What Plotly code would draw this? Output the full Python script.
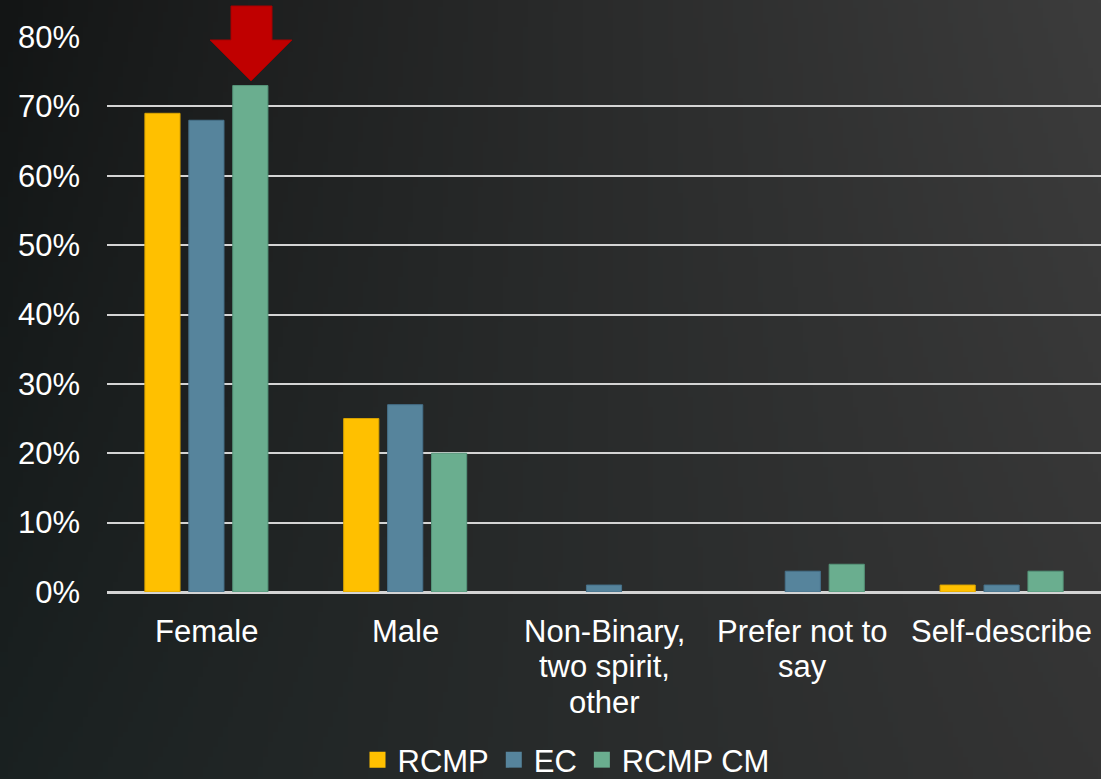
import base64
import struct
import zlib

import numpy as np
import plotly.graph_objects as go

# ---- data -------------------------------------------------------------
categories = ["Female", "Male", "Non-Binary, two spirit, other",
              "Prefer not to say", "Self-describe"]
category_lines = [["Female"], ["Male"], ["Non-Binary,", "two spirit,", "other"],
                  ["Prefer not to", "say"], ["Self-describe"]]
rcmp = [69, 25, 0, 0, 1]
ec = [68, 27, 1, 3, 1]
rcmp_cm = [73, 20, 0, 4, 3]
y_ticks = [0, 10, 20, 30, 40, 50, 60, 70, 80]
y_tick_text = [f"{v}%" for v in y_ticks]

# ---- page geometry (px) ----------------------------------------------
W, H = 1101, 779
ML, MR, MT, MB = 107, 0, 37, 187
PW, PH = W - ML - MR, H - MT - MB


def px_x(px):
    return (px - ML) / PW


def px_y(py):
    return (H - MB - py) / PH


# ---- chalkboard-style gradient background as an inline PNG ------------
def gradient_png(w, h):
    xs = np.linspace(0, 1, w)[None, :, None]
    ys = np.linspace(0, 1, h)[:, None, None]
    tl = np.array([19, 21, 21], float)
    tr = np.array([60, 60, 60], float)
    bl = np.array([26, 33, 33], float)
    br = np.array([52, 52, 52], float)
    top = tl + (tr - tl) * xs ** 0.9
    bot = bl + (br - bl) * xs ** 0.9
    img = top + (bot - top) * ys
    img = np.clip(img, 0, 255).astype(np.uint8)
    raw = b"".join(b"\x00" + img[r].tobytes() for r in range(h))

    def chunk(tag, data):
        c = struct.pack(">I", len(data)) + tag + data
        return c + struct.pack(">I", zlib.crc32(tag + data) & 0xFFFFFFFF)

    png = b"\x89PNG\r\n\x1a\n"
    png += chunk(b"IHDR", struct.pack(">IIBBBBB", w, h, 8, 2, 0, 0, 0))
    png += chunk(b"IDAT", zlib.compress(raw, 9))
    png += chunk(b"IEND", b"")
    return "data:image/png;base64," + base64.b64encode(png).decode()


bg_uri = gradient_png(220, 156)

FONT = "Liberation Sans, Arial, sans-serif"
FS = 31

fig = go.Figure()
series = [
    ("RCMP", rcmp, "#FFC000", "#D9A300"),
    ("EC", ec, "#56849C", "#46718A"),
    ("RCMP CM", rcmp_cm, "#6AAE8F", "#55957A"),
]
for name, vals, col, edge in series:
    fig.add_trace(go.Bar(
        x=categories, y=vals, name=name, showlegend=False,
        marker=dict(color=col,
                    line=dict(color=edge, width=[1 if v else 0 for v in vals])),
    ))
# legend entries with square swatches
for name, vals, col, edge in series:
    fig.add_trace(go.Scatter(
        x=[None], y=[None], mode="markers", name=name,
        marker=dict(symbol="square", size=16, color=col),
    ))

# category labels, one line at a time
annotations = []
for cat, lines in zip(categories, category_lines):
    for i, line in enumerate(lines):
        annotations.append(dict(
            x=cat, xref="x", y=px_y(631 + 35.5 * i), yref="paper",
            text=line, showarrow=False, xanchor="center", yanchor="middle",
            font=dict(family=FONT, size=FS, color="#ffffff"),
        ))

# red arrow pointing at the highlighted bar
arrow_pts = [(231, 6), (272, 6), (272, 40), (292, 40), (251, 81),
             (210, 40), (231, 40)]
path = "M " + " L ".join(f"{px_x(a):.5f},{px_y(b):.5f}" for a, b in arrow_pts) + " Z"

fig.update_layout(
    width=W, height=H,
    margin=dict(l=ML, r=MR, t=MT, b=MB, pad=0, autoexpand=False),
    paper_bgcolor="#262a2a",
    plot_bgcolor="rgba(0,0,0,0)",
    font=dict(family=FONT, size=FS, color="#ffffff"),
    barmode="group",
    bargap=0.337,
    bargroupgap=0.2,
    showlegend=True,
    legend=dict(
        orientation="h", x=px_x(566), xanchor="center",
        y=px_y(760), yanchor="middle",
        font=dict(family=FONT, size=FS, color="#ffffff"),
        bgcolor="rgba(0,0,0,0)", itemwidth=30, tracegroupgap=0,
    ),
    xaxis=dict(
        showgrid=False, zeroline=False, showline=False,
        ticks="", showticklabels=False, automargin=False,
    ),
    yaxis=dict(
        range=[0, 80], tickvals=y_ticks, ticktext=y_tick_text,
        showgrid=True, gridcolor="#d4d4d4", gridwidth=2,
        zeroline=True, zerolinecolor="#d4d4d4", zerolinewidth=3,
        showline=False, ticks="", ticklabelstandoff=26, automargin=False,
        tickfont=dict(family=FONT, size=FS, color="#ffffff"),
    ),
    annotations=annotations,
    images=[dict(
        source=bg_uri, xref="paper", yref="paper",
        x=px_x(0), y=px_y(0), sizex=W / PW, sizey=H / PH,
        xanchor="left", yanchor="top", sizing="stretch", layer="below",
    )],
    shapes=[dict(
        type="path", path=path, xref="paper", yref="paper",
        fillcolor="#C00000", line=dict(color="#A50000", width=1),
        layer="above",
    )],
)

fig.write_html("out.html")
